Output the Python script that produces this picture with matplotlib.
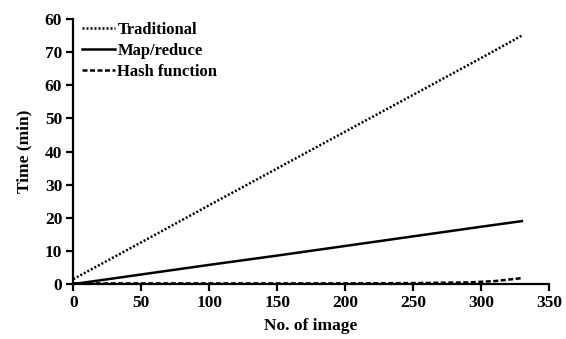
import matplotlib.pyplot as plt
import numpy as np

# data
images = [0, 50, 100, 150, 200, 250, 300, 330]
traditional = [1.5, 12.6, 23.8, 34.9, 46.0, 57.1, 68.2, 75.0]
map_reduce = [0.0, 2.9, 5.8, 8.6, 11.5, 14.4, 17.3, 19.0]
hash_images = [0, 50, 100, 150, 200, 250, 290, 310, 330]
hash_function = [0.2, 0.2, 0.2, 0.2, 0.2, 0.3, 0.5, 0.9, 1.8]

y_ticks = [0, 10, 20, 30, 40, 50, 60, 70, 80]
y_tick_labels = ['0', '10', '20', '30', '40', '50', '60', '70', '60']
x_ticks = [0, 50, 100, 150, 200, 250, 300, 350]

plt.rcParams['font.family'] = ['Liberation Serif', 'DejaVu Serif']
plt.rcParams['font.weight'] = 'bold'

fig = plt.figure(figsize=(5.66, 3.39), dpi=100)
ax = fig.add_axes([0.1295, 0.162, 0.8405, 0.782])

ax.plot(images, traditional, color='black', linestyle=(0, (0.8, 0.8)), linewidth=1.8, label='Traditional')
ax.plot(images, map_reduce, color='black', linestyle='-', linewidth=1.8, label='Map/reduce')
ax.plot(hash_images, hash_function, color='black', linestyle=(0, (2.0, 1.0)), linewidth=1.8, label='Hash function')

ax.set_xlim(0, 350)
ax.set_ylim(0, 80)
ax.set_xticks(x_ticks)
ax.set_yticks(y_ticks)
ax.set_yticklabels(y_tick_labels)

for side in ['top', 'right']:
    ax.spines[side].set_visible(False)
for side in ['left', 'bottom']:
    ax.spines[side].set_linewidth(1.6)
ax.tick_params(direction='out', length=5, width=1.6, labelsize=12.5, pad=3)

ax.set_xlabel('No. of image', fontsize=12.5, fontweight='bold', labelpad=5)
ax.set_ylabel('Time (min)', fontsize=12.5, fontweight='bold', labelpad=9)

ax.legend(loc='upper left', frameon=False, fontsize=12, handlelength=1.95,
          handletextpad=0.15, labelspacing=0.3, borderaxespad=0.0,
          borderpad=0.2, bbox_to_anchor=(0.012, 1.0))

plt.savefig('out.png', dpi=100)
